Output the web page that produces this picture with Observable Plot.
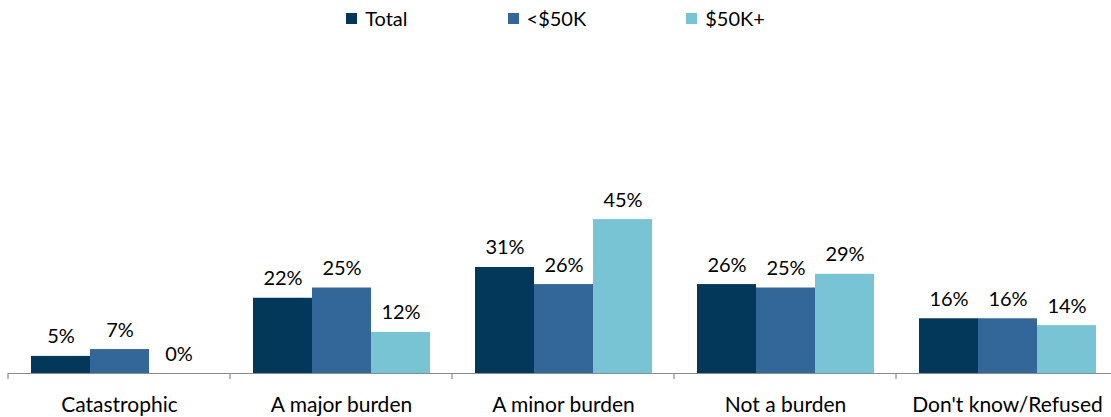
<!DOCTYPE html>
<html>
<head>
<meta charset="utf-8">
<script src="https://cdn.jsdelivr.net/npm/d3@7"></script>
<script src="https://cdn.jsdelivr.net/npm/@observablehq/plot@0.6"></script>
<style>
  html, body { margin: 0; padding: 0; background: #fff; }
  body { width: 1111px; height: 417px; overflow: hidden; font-family: Lato, "Open Sans", sans-serif; }
  #legend { height: 36px; display: flex; justify-content: center; align-items: center; gap: 100px; font-size: 20px; color: #000; }
  #legend .item { display: flex; align-items: center; gap: 8px; }
  #legend .sw { width: 11px; height: 11px; display: inline-block; }
</style>
</head>
<body>
<div id="legend"></div>
<div id="chart"></div>
<script>
// Burden categories along the bottom
const categories = ["Catastrophic", "A major burden", "A minor burden", "Not a burden", "Don't know/Refused"];
// Income groups shown side by side within each category
const series = ["Total", "<$50K", "$50K+"];
const colors = ["#04385b", "#336699", "#78c4d4"];
// Percent values per series, in category order
const totalValues = [5, 22, 31, 26, 16];
const under50Values = [7, 25, 26, 25, 16];
const over50Values = [0, 12, 45, 29, 14];

const valuesBySeries = [totalValues, under50Values, over50Values];
const data = [];
categories.forEach((c, i) => {
  series.forEach((s, j) => data.push({category: c, series: s, value: valuesBySeries[j][i]}));
});

// Legend
const legend = document.getElementById("legend");
series.forEach((s, j) => {
  const item = document.createElement("div");
  item.className = "item";
  const sw = document.createElement("span");
  sw.className = "sw";
  sw.style.background = colors[j];
  const label = document.createElement("span");
  label.textContent = s;
  item.append(sw, label);
  legend.append(item);
});

const chart = Plot.plot({
  width: 1111,
  height: 381,
  marginLeft: 8,
  marginRight: -7,
  marginTop: 166,
  marginBottom: 44,
  style: {fontFamily: "Lato, 'Open Sans', sans-serif", fontSize: "20px", color: "#000", background: "#fff"},
  fx: {domain: categories, padding: 0, label: null},
  x: {domain: series, paddingInner: 0, paddingOuter: 0.37, axis: null},
  y: {domain: [0, 50], axis: null},
  color: {domain: series, range: colors},
  marks: [
    Plot.barY(data, {fx: "category", x: "series", y: "value", fill: "series", inset: 0}),
    Plot.text(data, {fx: "category", x: "series", y: "value", text: d => `${d.value}%`,
      lineAnchor: "bottom", dy: -13, fontSize: 20, fill: "#000"}),
    Plot.ruleY([0], {stroke: "#8c8c8c", strokeWidth: 1.2}),
    Plot.axisFx({anchor: "bottom", tickSize: 0, tickPadding: 24, fontSize: 21, label: null})
  ]
});

// Separator ticks at category boundaries, below the baseline
const fx = chart.scale("fx");
const y0 = chart.scale("y").apply(0);
const svg = d3.select(chart);
const bounds = categories.map(c => fx.apply(c));
bounds.push(fx.apply(categories[categories.length - 1]) + fx.step);
svg.append("g")
  .attr("stroke", "#8c8c8c")
  .attr("stroke-width", 1.2)
  .selectAll("line")
  .data(bounds)
  .join("line")
  .attr("x1", d => d).attr("x2", d => d)
  .attr("y1", y0).attr("y2", y0 + 6);

document.getElementById("chart").append(chart);
</script>
</body>
</html>
